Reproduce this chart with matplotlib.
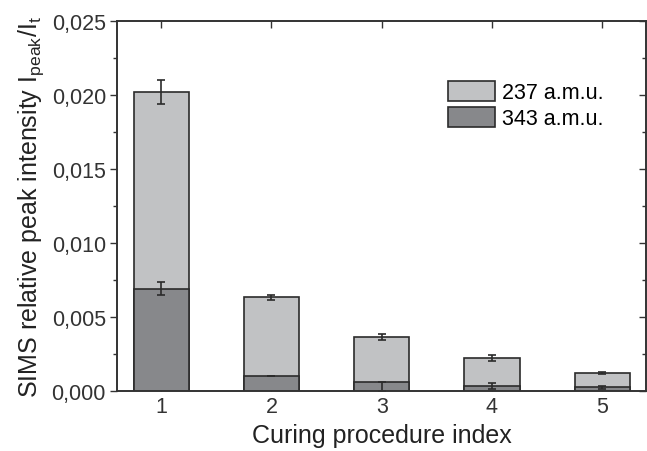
import matplotlib.pyplot as plt
import numpy as np
from matplotlib.ticker import FuncFormatter, MultipleLocator

plt.rcParams['font.family'] = ['Liberation Sans', 'DejaVu Sans']

# data
index = [1, 2, 3, 4, 5]
amu237 = [0.0202, 0.00633, 0.00365, 0.0022, 0.00122]
amu237_err = [0.0008, 0.00018, 0.0002, 0.0002, 0.00005]
amu343 = [0.0069, 0.00101, 0.0006, 0.00034, 0.00025]
amu343_err_lo = [0.00045, 0.00003, 0.0006, 0.00018, 0.0001]
amu343_err_hi = [0.00045, 0.00003, 0.00003, 0.00018, 0.0001]
labels = ['237 a.m.u.', '343 a.m.u.']

light = '#c1c2c4'
dark = '#87888b'
edge = '#2b2b2b'

fig = plt.figure(figsize=(6.47, 4.52), dpi=100)
ax = fig.add_axes([0.181, 0.133, 0.818, 0.818])

x = np.array(index)
ax.bar(x, amu237, width=0.5, color=light, edgecolor=edge, linewidth=1.2, label=labels[0], zorder=2)
ax.errorbar(x, amu237, yerr=amu237_err, fmt='none', ecolor=edge, elinewidth=1.2, capsize=3, capthick=1.2, zorder=3)
ax.bar(x, amu343, width=0.5, color=dark, edgecolor=edge, linewidth=1.2, label=labels[1], zorder=4)
ax.errorbar(x, amu343, yerr=[amu343_err_lo, amu343_err_hi], fmt='none', ecolor=edge, elinewidth=1.2,
            capsize=3, capthick=1.2, zorder=5)

ax.set_xlim(0.6, 5.4)
ax.set_ylim(0, 0.025)
ax.set_xticks(index)
ax.yaxis.set_major_locator(MultipleLocator(0.005))
ax.yaxis.set_minor_locator(MultipleLocator(0.0025))
ax.yaxis.set_major_formatter(FuncFormatter(lambda v, p: f'{v:.3f}'.replace('.', ',')))

ax.tick_params(axis='x', which='both', direction='in', top=True, length=5, width=1, labelsize=15.5, colors='#333333', pad=4)
ax.tick_params(axis='y', which='major', direction='out', length=5, width=1, labelsize=15.5, colors='#333333', pad=3)
ax.tick_params(axis='y', which='minor', direction='out', length=3, width=1, colors='#333333')

# right side ticks pointing inward
ax2 = ax.twinx()
ax2.set_ylim(ax.get_ylim())
ax2.yaxis.set_major_locator(MultipleLocator(0.005))
ax2.yaxis.set_minor_locator(MultipleLocator(0.0025))
ax2.tick_params(axis='y', which='major', direction='in', length=5, width=1, labelright=False, colors='#333333')
ax2.tick_params(axis='y', which='minor', direction='in', length=3, width=1, colors='#333333')

for a in (ax, ax2):
    for s in a.spines.values():
        s.set_linewidth(1.2)
        s.set_color('#333333')

ax.set_xlabel('Curing procedure index', fontsize=18, color='#222222', labelpad=4)
ax.set_ylabel(r'SIMS relative peak intensity I$_{\mathregular{peak}}$/I$_{\mathregular{t}}$',
              fontsize=18, color='#222222', labelpad=4)

ax.legend(loc='upper left', bbox_to_anchor=(0.625, 0.838), frameon=False, fontsize=15.5,
          handlelength=2.2, handleheight=1.05, labelspacing=0.15, handletextpad=0.3,
          borderaxespad=0, borderpad=0)

fig.savefig('out.png', dpi=100)
